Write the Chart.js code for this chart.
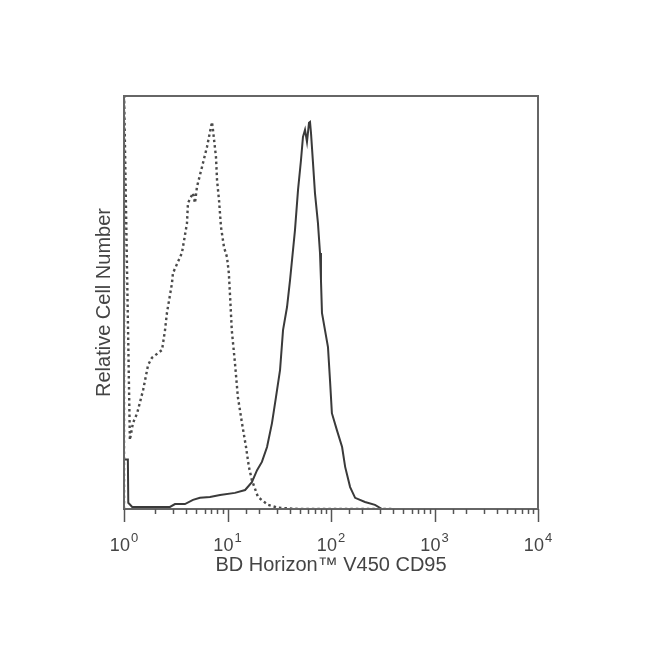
<!DOCTYPE html>
<html>
<head>
<meta charset="utf-8">
<script src="https://cdn.jsdelivr.net/npm/chart.js@4.4.0/dist/chart.umd.min.js"></script>
<style>
  html, body { margin: 0; padding: 0; background: #fff; }
  #wrap { width: 650px; height: 667px; }
</style>
</head>
<body>
<div id="wrap"><canvas id="histChart"></canvas></div>
<script>
// isotype control (dashed) - fluorescence channel / relative count
const isoX = [1, 1, 1.14, 1.22, 1.34, 1.53, 1.71, 1.86, 2.33, 2.49, 2.6, 2.91, 2.97, 3.63, 4.06, 4.15, 4.64, 4.85, 5.07,
  5.67, 6.34, 7.08, 7.24, 7.74, 7.92, 8.28, 8.65, 9.25, 9.89, 10.3, 10.6, 11.0, 11.8, 12.6, 13.8, 15.1, 16.1, 17.2,
  19.7, 24.6, 30.7, 50, 400];
const isoY = [0, 102, 16.7, 20.8, 23.2, 28.8, 34.9, 36.6, 38.5, 43.3, 47.5, 54.7, 57.1, 62.0, 69.2, 74.1, 76.5, 74.1, 78.0,
  82.8, 87.7, 93.7, 91.8, 85.2, 79.7, 74.8, 68.3, 63.4, 61.0, 57.1, 51.3, 43.3, 35.4, 27.1, 20.8, 15.0, 10.2, 7.0,
  2.9, 1.0, 0.3, 0, 0];

// CD95 stained (solid)
const cd95X = [1, 1.09, 1.1, 1.2, 2.78, 3.11, 3.88, 4.64, 5.42, 6.77, 8.47, 11.8, 14.8, 17.2, 19.3, 21.5, 24.1, 26.9,
  29.4, 32.2, 34.4, 37.6, 40.2, 44.9, 48.0, 51.3, 53.6, 56.1, 58.6, 61.3, 62.7, 64.1, 67.0, 70.0, 74.8, 78.3, 80.0,
  81.8, 93.5, 97.8, 102, 114, 128, 137, 153, 171, 213, 266, 311, 10000];
const cd95Y = [12, 12, 1.5, 0.5, 0.5, 1.2, 1.2, 2.2, 2.7, 2.9, 3.4, 3.9, 4.6, 6.5, 9.4, 11.4, 15.0, 20.8,
  27.1, 33.7, 43.3, 48.9, 55.4, 67.6, 77.2, 84.5, 90.1, 91.8, 88.9, 93.5, 93.7, 91.0, 83.8, 76.5, 69.2, 62.0, 55.4,
  47.5, 39.2, 31.2, 23.2, 19.1, 15.0, 10.2, 5.3, 2.7, 1.7, 1.0, 0, 0];

const decadeValues = [1, 10, 100, 1000, 10000];
const decadeExps = ['0', '1', '2', '3', '4'];

const textColor = '#444';
const fontFamily = '"Liberation Sans", Arial, sans-serif';

function toPoints(xs, ys) {
  return xs.map((x, i) => ({ x: x, y: ys[i] }));
}

// frame, log ticks and 10^n labels
const facsAxes = {
  id: 'facsAxes',
  afterDatasetsDraw(chart) {
    const ctx = chart.ctx;
    const area = chart.chartArea;
    const xs = chart.scales.x;
    ctx.save();
    ctx.strokeStyle = '#666';
    ctx.lineWidth = 2;
    ctx.strokeRect(area.left, area.top, area.right - area.left, area.bottom - area.top);

    ctx.lineWidth = 1.5;
    ctx.strokeStyle = '#555';
    xs.ticks.forEach(t => {
      const px = Math.round(xs.getPixelForValue(t.value)) + 0.5;
      const isMajor = decadeValues.includes(t.value);
      ctx.beginPath();
      ctx.moveTo(px, area.bottom);
      ctx.lineTo(px, area.bottom + (isMajor ? 13 : 5));
      ctx.stroke();
    });

    ctx.fillStyle = textColor;
    ctx.textBaseline = 'alphabetic';
    decadeValues.forEach((v, i) => {
      const px = xs.getPixelForValue(v);
      ctx.font = '18px ' + fontFamily;
      const wBase = ctx.measureText('10').width;
      ctx.font = '13px ' + fontFamily;
      const wExp = ctx.measureText(decadeExps[i]).width;
      const start = px - (wBase + 1 + wExp) / 2;
      ctx.font = '18px ' + fontFamily;
      ctx.fillText('10', start, area.bottom + 42);
      ctx.font = '13px ' + fontFamily;
      ctx.fillText(decadeExps[i], start + wBase + 1, area.bottom + 33);
    });
    ctx.restore();
  }
};

const ctx = document.getElementById('histChart').getContext('2d');

const histChart = new Chart(ctx, {
  type: 'line',
  data: {
    datasets: [
      {
        label: 'Isotype',
        data: toPoints(isoX, isoY),
        borderColor: '#4a4a4a',
        borderWidth: 2.4,
        borderDash: [2.5, 3],
        pointRadius: 0,
        tension: 0,
        fill: false
      },
      {
        label: 'CD95',
        data: toPoints(cd95X, cd95Y),
        borderColor: '#3a3a3a',
        borderWidth: 2,
        pointRadius: 0,
        tension: 0,
        fill: false
      }
    ]
  },
  options: {
    responsive: true,
    maintainAspectRatio: false,
    animation: false,
    layout: { padding: { top: 96, right: 112, left: 88, bottom: 86 } },
    plugins: {
      legend: { display: false },
      tooltip: { enabled: false }
    },
    scales: {
      x: {
        type: 'logarithmic',
        min: 1,
        max: 10000,
        grid: { display: false },
        border: { display: false },
        ticks: { display: false },
        afterFit(scale) { scale.height = 72; },
        title: {
          display: true,
          text: 'BD Horizon™ V450 CD95',
          color: textColor,
          font: { family: fontFamily, size: 20 }
        }
      },
      y: {
        type: 'linear',
        min: 0,
        max: 100,
        grid: { display: false },
        border: { display: false },
        ticks: { display: false },
        afterFit(scale) { scale.width = 36; },
        title: {
          display: true,
          text: 'Relative Cell Number',
          color: textColor,
          font: { family: fontFamily, size: 20 }
        }
      }
    }
  },
  plugins: [facsAxes]
});
</script>
</body>
</html>
